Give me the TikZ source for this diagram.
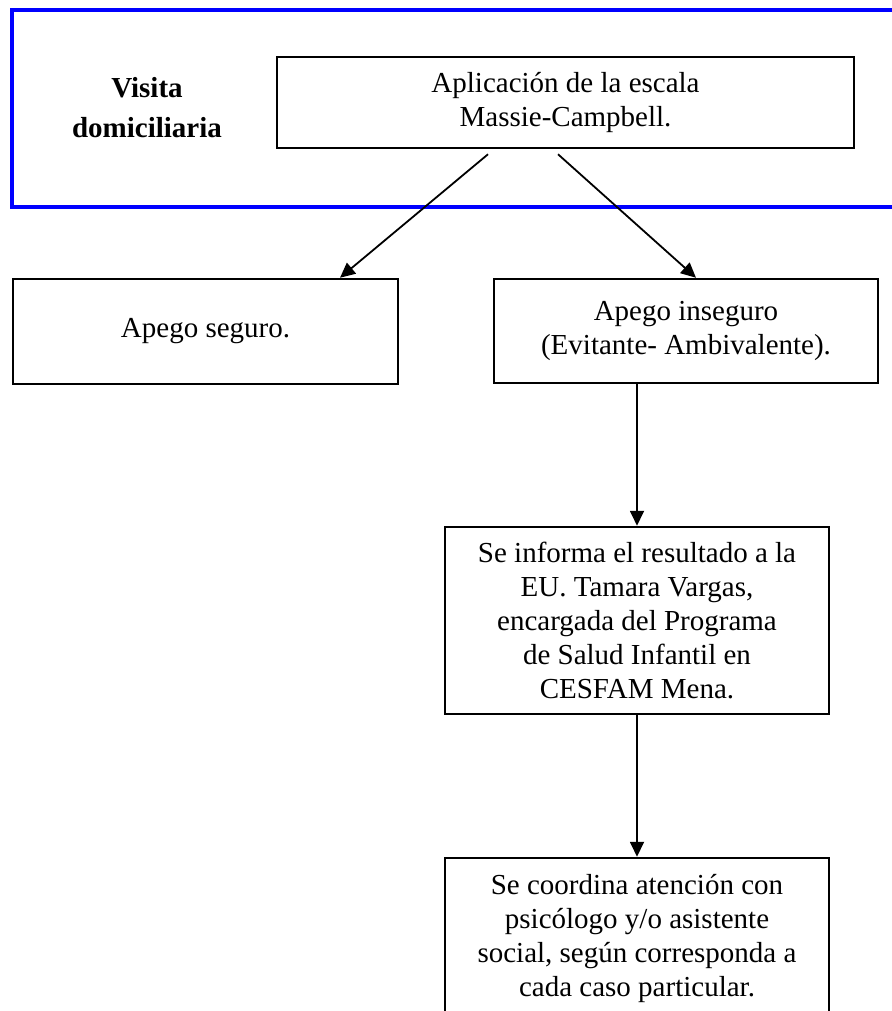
\documentclass[tikz,border=0pt]{standalone}
\usepackage{fontspec}
\setmainfont{Liberation Serif}
\usetikzlibrary{arrows.meta,positioning}

\definecolor{frameblue}{RGB}{0,0,255}

\tikzset{
  stagebox/.style = {draw = black, line width = 2.5pt, align = center,
    inner sep = 0pt, font = \fontsize{29}{34}\selectfont},
  flowarrow/.style = {draw = black, line width = 1.8pt,
    -{Triangle[length = 15pt, width = 14pt]}},
  visitframe/.style = {draw = frameblue, line width = 4.5pt}
}

\begin{document}
\begin{tikzpicture}[x = 1pt, y = -1pt]

\useasboundingbox (0,0) rectangle (891,1011);

\draw[visitframe] (900,10) -- (12,10) -- (12,207) -- (900,207);
\node[align = center, font = \fontsize{29}{40}\selectfont\bfseries] (visit) at (147,108) {Visita\\domiciliaria};

\node[stagebox, minimum width = 577pt, minimum height = 91pt] (scale) at (565.5,102.5) {Aplicación de la escala\\Massie-Campbell.};

\node[stagebox, minimum width = 385pt, minimum height = 105pt] (secure) at (205.5,331.5) {Apego seguro.};
\node[stagebox, minimum width = 384pt, minimum height = 104pt] (insecure) at (686,331) {Apego inseguro\\(Evitante- Ambivalente).};

\node[stagebox, minimum width = 384pt, minimum height = 187pt] (inform) at (637,620.5) {Se informa el resultado a la\\EU. Tamara Vargas,\\encargada del Programa\\de Salud Infantil en\\CESFAM Mena.};

\node[stagebox, minimum width = 384pt, minimum height = 160pt] (coordinate) at (637,938) {Se coordina atención con\\psicólogo y/o asistente\\social, según corresponda a\\cada caso particular.};

\draw[flowarrow] ([xshift = -77.5pt, yshift = -5pt]scale.south) -- ([xshift = 134.5pt]secure.north);
\draw[flowarrow] ([xshift = -7.5pt, yshift = -5pt]scale.south) -- ([xshift = 10pt]insecure.north);
\draw[flowarrow] ([xshift = -49pt]insecure.south) -- (inform.north);
\draw[flowarrow] (inform.south) -- (coordinate.north);

\end{tikzpicture}
\end{document}
